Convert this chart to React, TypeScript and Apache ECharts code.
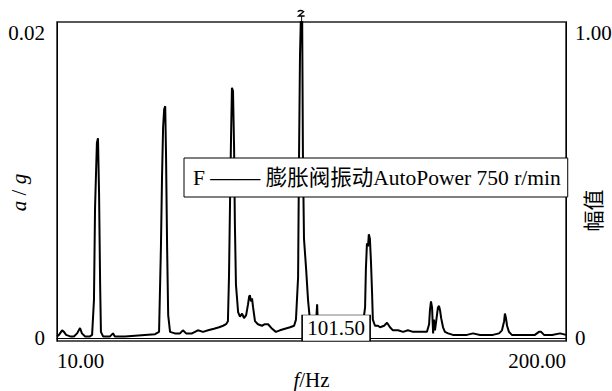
import React, { useEffect, useRef } from "react";
import * as echarts from "echarts";

const seriesName = "膨胀阀振动AutoPower 750 r/min";
const legendPrefix = "F {d|——} ";
const cursorFreq = 101.5;
const cursorLabel = "101.50";
const xTicks = [10, 200];
const leftTicks = [0, 0.02];
const rightTicks = [0, 1];

const freq = [
  10.0, 10.75, 11.9, 12.6, 13.4, 14.9, 16.3, 17.5, 18.6, 19.3, 20.5, 22.3, 23.1, 23.8, 24.2, 24.6, 24.9, 25.3, 25.7, 26.1,
  26.4, 27.2, 29.8, 30.9, 31.6, 35.4, 39.1, 42.8, 46.6, 48.1, 48.8, 49.2, 49.6, 50.0, 50.4, 50.7, 51.1, 51.5, 52.2, 54.0,
  55.9, 57.0, 58.2, 60.4, 62.6, 64.5, 66.4, 68.6, 70.5, 72.0, 73.1, 73.8, 74.2, 74.6, 75.0, 75.3, 75.7, 76.1, 76.4, 76.8,
  77.6, 78.3, 79.1, 79.8, 80.6, 81.3, 81.7, 82.0, 82.4, 82.8, 83.2, 83.9, 85.0, 86.5, 87.6, 88.8, 90.3, 91.7, 93.2, 95.1,
  97.0, 98.5, 99.2, 100.0, 100.3, 100.7, 101.1, 101.5, 101.8, 102.2, 103.0, 103.7, 104.4, 105.6, 106.7, 107.1, 107.4, 108.9, 111.2, 113.8,
  116.4, 119.4, 122.4, 124.2, 125.0, 125.3, 125.7, 126.1, 126.4, 126.8, 127.2, 127.6, 127.9, 128.7, 129.8, 130.6, 132.1, 133.2, 134.3, 135.4,
  137.3, 139.2, 141.0, 142.9, 144.8, 146.6, 148.1, 148.9, 149.2, 149.6, 150.0, 150.4, 150.7, 151.1, 151.9, 152.2, 152.6, 153.0, 153.4, 154.1,
  154.8, 156.0, 157.8, 160.4, 163.0, 165.3, 167.9, 170.5, 172.7, 175.0, 176.1, 176.9, 177.2, 177.6, 178.0, 178.7, 179.8, 182.8, 185.8, 188.4,
  189.9, 190.7, 191.8, 194.8, 197.8, 200.0,
];

const amp = [
  0.0001, 0.0002, 0.0005, 0.0004, 0.0002, 0.0001, 0.0001, 0.0003, 0.00065, 0.0003, 0.0001, 0.0001, 0.0002, 0.0025, 0.0085, 0.011, 0.0128, 0.0131, 0.0095, 0.0035,
  0.0004, 0.0001, 0.0001, 0.0003, 0.0001, 0.0001, 0.00015, 0.0002, 0.00025, 0.0004, 0.006, 0.0105, 0.0138, 0.015, 0.0152, 0.012, 0.006, 0.0015, 0.0004, 0.0003,
  0.0003, 0.0005, 0.0003, 0.0003, 0.0005, 0.0004, 0.0005, 0.0006, 0.0007, 0.0008, 0.0009, 0.0011, 0.004, 0.009, 0.0135, 0.0164, 0.0162, 0.0125, 0.0075, 0.0035,
  0.0017, 0.0014, 0.0016, 0.0013, 0.0015, 0.0022, 0.0027, 0.0028, 0.0024, 0.0026, 0.002, 0.0011, 0.0009, 0.0008, 0.0009, 0.0009, 0.0006, 0.0004, 0.0005, 0.0006,
  0.0007, 0.0008, 0.0012, 0.004, 0.011, 0.0185, 0.0215, 0.0215, 0.012, 0.0065, 0.0045, 0.0025, 0.0012, 0.0008, 0.001, 0.0022, 0.0008, 0.0007, 0.0006, 0.0006,
  0.0006, 0.0006, 0.0007, 0.0009, 0.002, 0.0045, 0.0062, 0.006, 0.0068, 0.0065, 0.005, 0.003, 0.0012, 0.0008, 0.0008, 0.0007, 0.0008, 0.001, 0.0007, 0.0005,
  0.0005, 0.0004, 0.0005, 0.0004, 0.0004, 0.0004, 0.0004, 0.0009, 0.0018, 0.0024, 0.002, 0.0003, 0.0012, 0.0005, 0.0016, 0.002, 0.0021, 0.0018, 0.0013, 0.0007,
  0.0004, 0.0003, 0.0002, 0.0002, 0.0002, 0.0003, 0.0002, 0.0002, 0.0002, 0.0003, 0.0005, 0.0011, 0.0016, 0.0013, 0.0008, 0.0004, 0.0002, 0.0002, 0.0002, 0.0002,
  0.0004, 0.0004, 0.0002, 0.0002, 0.0003, 0.0002,
];

const FONT = '"Liberation Serif", "Times New Roman", "Noto Sans CJK SC", serif';
const Y_MIN = -0.0002;
const Y_MAX = 0.02072;
const R_MIN = Y_MIN / 0.02;
const R_MAX = Y_MAX / 0.02;

export default function App() {
  const ref = useRef<HTMLDivElement>(null);
  useEffect(() => {
    if (!ref.current) return;
    const chart = echarts.init(ref.current, undefined, { renderer: "svg" });
    const data = freq.map((f, i) => [f, amp[i]]);
    chart.setOption({
      animation: false,
      backgroundColor: "#fff",
      textStyle: { fontFamily: FONT, color: "#000" },
      grid: {
        left: 57,
        right: 46,
        top: 22,
        bottom: 50,
        containLabel: false,
        outerBoundsMode: "none",
        show: true,
        borderColor: "#222",
        borderWidth: 1.5,
        backgroundColor: "transparent",
      },
      legend: {
        show: true,
        data: [seriesName],
        left: 184,
        top: 158,
        orient: "horizontal",
        icon: "none",
        itemWidth: 0,
        itemHeight: 10,
        padding: [7, 7, 7, 4],
        borderColor: "#000",
        borderWidth: 1,
        backgroundColor: "#fff",
        selectedMode: false,
        formatter: legendPrefix + "{name}",
        textStyle: {
          fontFamily: FONT,
          fontSize: 21.5,
          color: "#000",
          rich: { d: { fontFamily: FONT, fontSize: 25, color: "#000" } },
        },
      },
      xAxis: {
        type: "value",
        min: 10,
        max: 200,
        name: "{i|f}/Hz",
        nameLocation: "middle",
        nameGap: 28,
        nameMoveOverlap: false,
        nameTextStyle: {
          fontFamily: FONT,
          fontSize: 21,
          color: "#000",
          rich: { i: { fontStyle: "italic", fontFamily: FONT, fontSize: 21, color: "#000" } },
        },
        axisLine: { show: true, lineStyle: { color: "#000", width: 1 } },
        axisTick: { show: false },
        splitLine: { show: false },
        axisLabel: {
          customValues: xTicks,
          alignMinLabel: "left",
          alignMaxLabel: "right",
          formatter: (v: number) => v.toFixed(2),
          fontFamily: FONT,
          fontSize: 21,
          color: "#000",
          margin: 9,
        },
      },
      yAxis: [
        {
          type: "value",
          position: "left",
          min: Y_MIN,
          max: Y_MAX,
          name: "{i|a} / {i|g}",
          nameLocation: "middle",
          nameGap: 28,
          nameRotate: 90,
          nameMoveOverlap: false,
          nameTextStyle: {
            fontFamily: FONT,
            fontSize: 21,
            color: "#000",
            padding: [0, 22, 0, 0],
            rich: { i: { fontStyle: "italic", fontFamily: FONT, fontSize: 21, color: "#000" } },
          },
          axisLine: { show: true, lineStyle: { color: "#000", width: 1 } },
          axisTick: { show: false },
          splitLine: { show: false },
          axisLabel: {
            customValues: leftTicks,
            formatter: (v: number) => (Math.abs(v) < 0.001 ? "0" : v.toFixed(2)),
            fontFamily: FONT,
            fontSize: 21,
            color: "#000",
            margin: 12,
          },
        },
        {
          type: "value",
          position: "right",
          min: R_MIN,
          max: R_MAX,
          name: "幅值",
          nameLocation: "middle",
          nameGap: 17,
          nameRotate: 90,
          nameMoveOverlap: false,
          nameTextStyle: { fontFamily: FONT, fontSize: 21, color: "#000", padding: [0, 58, 0, 0] },
          axisLine: { show: true, lineStyle: { color: "#000", width: 1 } },
          axisTick: { show: false },
          splitLine: { show: false },
          axisLabel: {
            customValues: rightTicks,
            formatter: (v: number) => (Math.abs(v) < 0.05 ? "0" : v.toFixed(2)),
            fontFamily: FONT,
            fontSize: 21,
            color: "#000",
            margin: 9,
          },
        },
      ],
      series: [
        {
          name: seriesName,
          type: "line",
          data,
          showSymbol: false,
          symbol: "none",
          clip: true,
          lineStyle: { color: "#000", width: 2 },
          itemStyle: { color: "#000" },
          markPoint: {
            silent: true,
            data: [
              {
                coord: [cursorFreq, Y_MIN],
                symbol: "rect",
                symbolSize: [68, 26],
                symbolOffset: [34, -13],
                itemStyle: { color: "#fff", borderColor: "#000", borderWidth: 1 },
                label: {
                  show: true,
                  position: "inside",
                  formatter: cursorLabel,
                  fontFamily: FONT,
                  fontSize: 21,
                  color: "#000",
                },
              },
              {
                coord: [cursorFreq, Y_MAX],
                symbol: "path://M0,1 Q3,-1 6,1 L1,5 L7,5 M4,5 L4,10",
                symbolSize: [7, 11],
                symbolOffset: [-1, -6],
                itemStyle: { color: "none", borderColor: "#000", borderWidth: 1.2 },
                label: { show: false },
              },
            ],
          },
        },
      ],
    });
    return () => chart.dispose();
  }, []);
  return (
    <div
      ref={ref}
      style={{ position: "fixed", left: 0, top: 0, width: 612, height: 391, background: "#fff" }}
    />
  );
}
